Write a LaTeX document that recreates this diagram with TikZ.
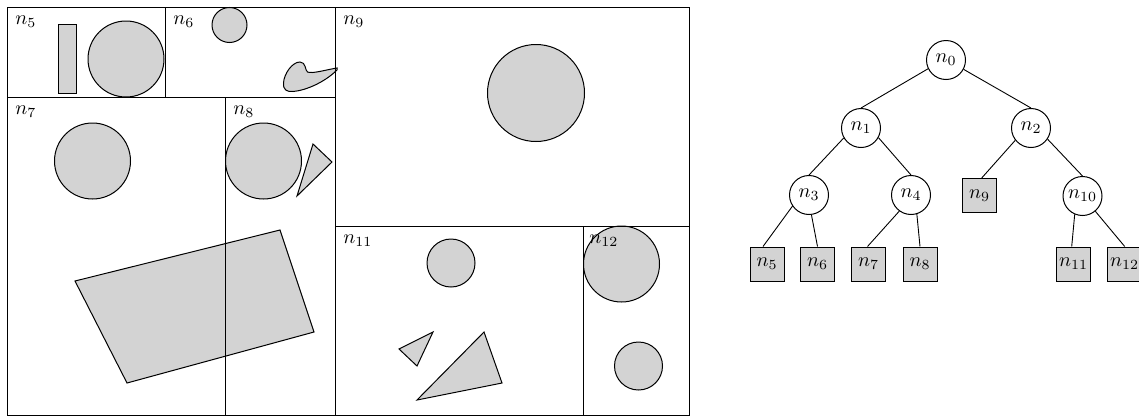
\documentclass[tikz,border=0pt]{standalone}
\usetikzlibrary{calc}
\definecolor{shapegray}{RGB}{211,211,211}
\begin{document}
\begin{tikzpicture}[x=0.5pt,y=-0.5pt,
  region/.style={draw=black, line width=0.5pt},
  obj/.style={draw=black, fill=shapegray, line width=0.5pt},
  reglabel/.style={anchor=north west, inner sep=4pt},
  inode/.style={circle, draw, fill=white, minimum size=19.5pt, inner sep=0pt, line width=0.5pt},
  leaf/.style={rectangle, draw, fill=shapegray, minimum size=17pt, inner sep=0pt, line width=0.5pt},
  treeline/.style={draw=black, line width=0.45pt}]
\useasboundingbox (0,0) rectangle (1139,418);

% ---- shapes in the regions ----
\draw[obj] (58,24) rectangle (76,93);
\draw[obj] (126,59) circle[radius=19pt];
\draw[obj] (229.5,25) circle[radius=8.75pt];
\draw[obj] (337,68) .. controls (325,70) and (312,74) .. (307.5,72)
  .. controls (305,70.5) and (306,62) .. (300,62)
  .. controls (292,62) and (284,74) .. (283.5,83)
  .. controls (283,90) and (287,92) .. (293,91.5)
  .. controls (306,90.5) and (325,82) .. (337,70) -- cycle;
\draw[obj] (92.5,161) circle[radius=19pt];
\draw[obj] (263.5,161) circle[radius=19pt];
\draw[obj] (313,144) -- (332,162) -- (297,196) -- cycle;
\draw[obj] (75,281) -- (280,230) -- (314,332) -- (127,383) -- cycle;
\draw[obj] (536,93) circle[radius=24.25pt];
\draw[obj] (451,263) circle[radius=12pt];
\draw[obj] (399,349) -- (433,332) -- (417,366) -- cycle;
\draw[obj] (484,332) -- (502,383) -- (417,400) -- cycle;
\draw[obj] (621.5,264) circle[radius=19pt];
\draw[obj] (638.5,366) circle[radius=12pt];

% ---- region boundaries ----
\draw[region] (7,7) rectangle (689,415);
\draw[region] (165,7) -- (165,97);
\draw[region] (7,97) -- (335,97);
\draw[region] (335,7) -- (335,415);
\draw[region] (225,97) -- (225,415);
\draw[region] (335,226) -- (689,226);
\draw[region] (583,226) -- (583,415);

% ---- region labels ----
\node[reglabel] (l5) at (7,7) {$n_5$};
\node[reglabel] (l6) at (165,7) {$n_6$};
\node[reglabel] (l9) at (335,7) {$n_9$};
\node[reglabel] (l7) at (7,97) {$n_7$};
\node[reglabel] (l8) at (225,97) {$n_8$};
\node[reglabel] (l11) at (335,226) {$n_{11}$};
\node[reglabel] (l12) at (581,226) {$n_{12}$};

% ---- tree ----
\node[inode] (n0) at (946,60) {$n_0$};
\node[inode] (n1) at (861,128) {$n_1$};
\node[inode] (n2) at (1031,128) {$n_2$};
\node[inode] (n3) at (809,195) {$n_3$};
\node[inode] (n4) at (911,195) {$n_4$};
\node[leaf]  (n9) at (979.7,195.5) {$n_9$};
\node[inode] (n10) at (1082.5,196) {$n_{10}$};
\node[leaf]  (n5) at (767,264) {$n_5$};
\node[leaf]  (n6) at (817.5,264) {$n_6$};
\node[leaf]  (n7) at (868.5,264) {$n_7$};
\node[leaf]  (n8) at (920,264) {$n_8$};
\node[leaf]  (n11) at (1073.7,264) {$n_{11}$};
\node[leaf]  (n12) at (1124.7,264) {$n_{12}$};

\draw[treeline] (n0.206) -- (n1.north);
\draw[treeline] (n0.332) -- (n2.north);
\draw[treeline] (n1.210) -- (n3.north);
\draw[treeline] (n1.331) -- (n4.north);
\draw[treeline] (n2.218) -- ($(n9.north)+(2,0)$);
\draw[treeline] (n2.326) -- (n10.north);
\draw[treeline] (n3.214) -- ($(n5.north)+(-4,0)$);
\draw[treeline] (n3.277) -- (n6.north);
\draw[treeline] (n4.234) -- ($(n7.north)+(-1,0)$);
\draw[treeline] (n4.287) -- (n8.north);
\draw[treeline] (n10.247) -- ($(n11.north)+(-2,0)$);
\draw[treeline] (n10.310) -- (n12.north);
\end{tikzpicture}
\end{document}
